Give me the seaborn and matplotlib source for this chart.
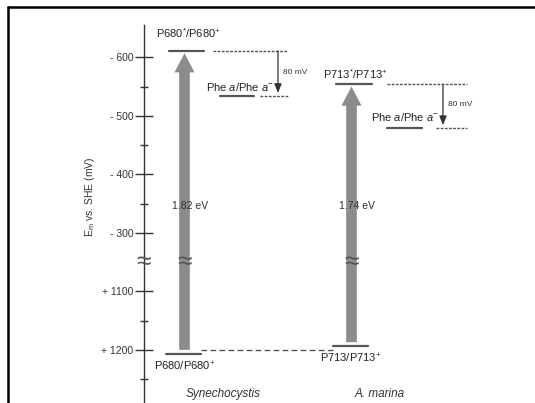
import numpy as np
import pandas as pd
import matplotlib
matplotlib.use("Agg")
import matplotlib.pyplot as plt
import seaborn as sns

# ---------------- data (mV vs SHE) ----------------
species = ["Synechocystis", "A. marina"]
donor_label = ["P680/P680$^{+}$", "P713/P713$^{+}$"]
excited_label = ["P680$^{*}$/P680$^{+}$", "P713$^{*}$/P713$^{+}$"]
donor_em = [1207, 1193]           # ground state Em
excited_em = [-611, -554]         # excited state Em
phe_em = [-534, -479]             # Phe a / Phe a- Em
gap_label = ["1.82 eV", "1.74 eV"]
shift_label = ["80 mV", "80 mV"]
tick_values = [-600, -500, -400, -300, 1100, 1200]
tick_labels = ["- 600", "- 500", "- 400", "- 300", "+ 1100", "+ 1200"]
minor_values = [-550, -450, -350, 1150, 1250]

# ---------------- broken-axis mapping ----------------
def pos(e):
    e = np.asarray(e, dtype=float)
    return np.where(e < 0, -e, 1300 - e)

BREAK_POS = 250

# ---------------- layout (pixels in x) ----------------
W, H = 535, 403
col = [
    dict(arrow=184.5, lvl=(169, 204), phe=(220, 254), exdash=(213, 287), phedash=(260, 288),
         shift_x=278, gs=(166, 201)),
    dict(arrow=351.5, lvl=(336, 372), phe=(387, 422), exdash=(387, 467), phedash=(436, 467),
         shift_x=443, gs=(333, 368)),
]

sns.set_theme(style="white")
plt.rcParams["font.family"] = ["Liberation Sans", "DejaVu Sans"]
plt.rcParams["mathtext.fontset"] = "custom"
plt.rcParams["mathtext.rm"] = "Liberation Sans"
plt.rcParams["mathtext.it"] = "Liberation Sans:italic"

fig = plt.figure(figsize=(W / 100, H / 100), dpi=100)
# frame
fig.add_artist(plt.Line2D([8 / W, 8 / W], [0, 1 - 7 / H], transform=fig.transFigure,
                          color="black", lw=1.8))
fig.add_artist(plt.Line2D([8 / W, 1], [1 - 7 / H, 1 - 7 / H], transform=fig.transFigure,
                          color="black", lw=1.8))

ax_left_px, ax_top_px = 144, 25
ax = fig.add_axes([ax_left_px / W, 0, (W - ax_left_px) / W, (H - ax_top_px) / H])
ax.set_xlim(ax_left_px, W)
ylo = 600 - (403 - 57.3) / 0.585
yhi = 600 + (57.3 - 25) / 0.585
ax.set_ylim(ylo, yhi)
for s in ["top", "right", "bottom"]:
    ax.spines[s].set_visible(False)
ax.spines["left"].set_color("#333333")
ax.spines["left"].set_linewidth(1.0)
ax.set_xticks([])
ax.set_yticks(pos(tick_values))
ax.set_yticklabels(tick_labels, fontsize=7.5, color="#333333")
ax.set_yticks(pos(minor_values), minor=True)
ax.tick_params(axis="y", which="major", direction="inout", length=13, width=1.0,
               color="#333333", pad=1, left=True)
ax.tick_params(axis="y", which="minor", direction="inout", length=6, width=1.0,
               color="#333333", left=True)
ax.patch.set_visible(False)

# y label
fig.text(90 / W, 1 - 197 / H, "E$_{\\mathrm{m}}$ vs. SHE (mV)", rotation=90,
         ha="center", va="center", fontsize=7.5, color="#333333")

line_c = "#555555"
arrow_c = "#8c8c8c"

# solid level lines via seaborn
rows = []
for i in range(2):
    c = col[i]
    for k, (xr, e) in enumerate([(c["lvl"], excited_em[i]), (c["phe"], phe_em[i]),
                                 (c["gs"], donor_em[i])]):
        for x in xr:
            rows.append(dict(seg=f"{i}-{k}", x=x, y=float(pos(e))))
df = pd.DataFrame(rows)
sns.lineplot(data=df, x="x", y="y", units="seg", estimator=None, color=line_c,
             lw=1.6, ax=ax, legend=False, sort=False)
ax.set_xlabel("")
ax.set_ylabel("")

# dashed extensions
for i in range(2):
    c = col[i]
    ax.hlines(pos(excited_em[i]), *c["exdash"], colors=line_c, lw=1.0, linestyles=(0, (2, 1)))
    ax.hlines(pos(phe_em[i]), *c["phedash"], colors=line_c, lw=1.0, linestyles=(0, (2, 1)))
ax.hlines(pos(np.mean(donor_em)), col[0]["gs"][1], col[1]["gs"][0], colors=line_c,
          lw=1.0, linestyles=(0, (4, 2.5)))

# big excitation arrows
for i in range(2):
    c = col[i]
    y0 = pos(donor_em[i]) + (7 if i == 0 else 6)
    y1 = pos(excited_em[i]) - 4
    ax.annotate("", xy=(c["arrow"], y1), xytext=(c["arrow"], y0),
                arrowprops=dict(arrowstyle="simple,head_width=1.2,head_length=1.15,tail_width=0.64",
                                color=arrow_c, lw=0, shrinkA=0, shrinkB=0), zorder=2)
    ax.text(c["arrow"] + 5.5, pos(-300) + 46, gap_label[i], fontsize=7.5, color="#333333",
            ha="center", va="center", zorder=4)
    ax.text(c["arrow"], BREAK_POS, "\u2248", fontsize=19, color="#555555",
            ha="center", va="center", zorder=4)
    ax.annotate("", xy=(c["shift_x"], pos(phe_em[i]) + 5), xytext=(c["shift_x"], pos(excited_em[i])),
                arrowprops=dict(arrowstyle="-|>,head_width=0.18,head_length=0.45",
                                color="#333333", lw=0.9, shrinkA=0, shrinkB=0))
    ax.text(c["shift_x"] + 5, (pos(phe_em[i]) + pos(excited_em[i])) / 2 + 2, shift_label[i],
            fontsize=6, color="#333333", ha="left", va="center")

# break mark on axis
ax.text(ax_left_px, BREAK_POS, "\u2248", fontsize=19, color="#555555",
        ha="center", va="center", clip_on=False, zorder=5)

# labels
fs = 8
ax.text(188, pos(excited_em[0]) + 30, excited_label[0], fontsize=fs, color="#222222",
        ha="center", va="center")
ax.text(355, pos(excited_em[1]) + 18, excited_label[1], fontsize=fs, color="#222222",
        ha="center", va="center")
ax.text(240, pos(phe_em[0]) + 16, "Phe $\\mathit{a}$/Phe $\\mathit{a}^{-}$", fontsize=fs,
        color="#222222", ha="center", va="center")
ax.text(405, pos(phe_em[1]) + 19, "Phe $\\mathit{a}$/Phe $\\mathit{a}^{-}$", fontsize=fs,
        color="#222222", ha="center", va="center")
ax.text(184.5, pos(donor_em[0]) - 22, donor_label[0], fontsize=fs, color="#222222",
        ha="center", va="center")
ax.text(351, pos(donor_em[1]) - 22, donor_label[1], fontsize=fs, color="#222222",
        ha="center", va="center")
ax.text(223, pos(donor_em[0]) - 69, species[0], fontsize=8.5, style="italic",
        color="#333333", ha="center", va="center")
ax.text(380, pos(donor_em[0]) - 69, species[1], fontsize=8.5, style="italic",
        color="#333333", ha="center", va="center")

fig.savefig("out.png", dpi=100)
